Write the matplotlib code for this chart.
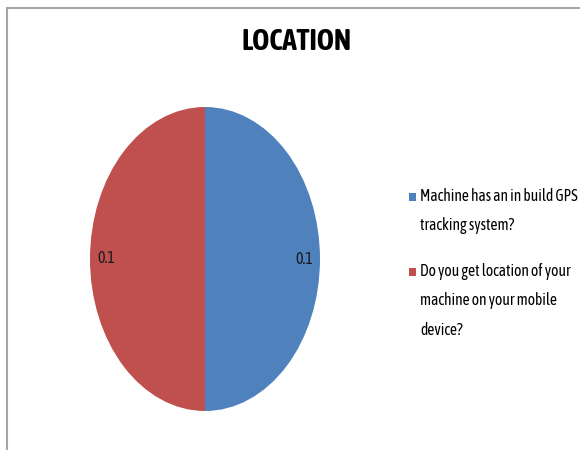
import matplotlib
matplotlib.use("Agg")
import matplotlib.pyplot as plt
from matplotlib.patches import Rectangle

# data
labels = ["Machine has an in build GPS\ntracking system?",
          "Do you get location of your\nmachine on your mobile\ndevice?"]
values = [0.1, 0.1]
colors = ["#4f81bd", "#c0504d"]
title = "LOCATION"

plt.rcParams['font.family'] = ['Asap Condensed', 'Carlito', 'DejaVu Sans']

W, H = 580, 450
fig = plt.figure(figsize=(W / 100, H / 100), dpi=100)
fig.patch.set_facecolor('white')

# chart frame, only left and top edges show in the crop
frame = Rectangle((7 / W, -0.1), 1.2, (H - 8) / H + 0.1, transform=fig.transFigure,
                  fill=False, edgecolor='#a6a6a6', linewidth=1.5)
fig.patches.append(frame)

# the pie is stretched vertically -> axes box in pixels, aspect auto
x0, x1, ytop, ybot = 90, 320, 107, 411
ax = fig.add_axes([x0 / W, (H - ybot) / H, (x1 - x0) / W, (ybot - ytop) / H])
wedges, texts, autotexts = ax.pie(values, colors=colors, startangle=90, counterclock=False,
                                  autopct=lambda p: '%.1f' % (p / 100 * sum(values)),
                                  pctdistance=0.86, radius=1,
                                  wedgeprops=dict(linewidth=0))
for t in autotexts:
    t.set_fontsize(11.5)
    t.set_color('#1a1a1a')
ax.set_aspect('auto')
ax.set_xlim(-1, 1)
ax.set_ylim(-1, 1)
ax.axis('off')

fig.text(297 / W, 1 - 42 / H, title, ha='center', va='center',
         fontsize=21, fontweight='bold')

# legend by hand so the marker sits on the first line, as Excel does
leg_y = [197, 272]
for lab, c, yy in zip(labels, colors, leg_y):
    fig.patches.append(Rectangle((409 / W, 1 - (yy + 4) / H), 7 / W, 8 / H,
                                 transform=fig.transFigure, facecolor=c, edgecolor='none'))
    fig.text(420 / W, 1 - (yy - 9) / H, lab, ha='left', va='top', fontsize=11.2,
             linespacing=1.95)

fig.savefig('out.png', dpi=100)
